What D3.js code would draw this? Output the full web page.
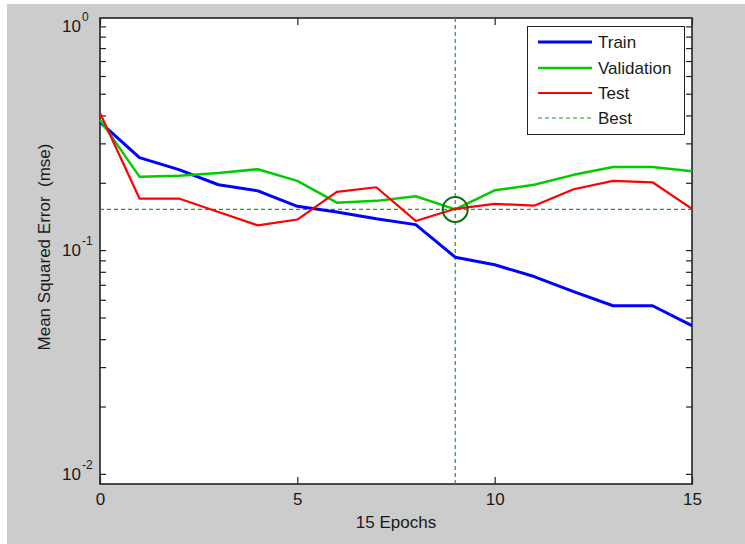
<!DOCTYPE html>
<html>
<head>
<meta charset="utf-8">
<script src="https://cdn.jsdelivr.net/npm/d3@7"></script>
<style>
  body { margin: 0; background: #fff; }
  text { font-family: "Liberation Sans", Arial, sans-serif; fill: #1a1a1a; }
</style>
</head>
<body>
<div id="chart"></div>
<script>
// DATA
const epochs = [0, 1, 2, 3, 4, 5, 6, 7, 8, 9, 10, 11, 12, 13, 14, 15];
const trainPerf = [0.373, 0.259, 0.229, 0.196, 0.184, 0.157, 0.148, 0.138, 0.130, 0.093, 0.086, 0.0762, 0.0653, 0.0564, 0.0564, 0.046];
const valPerf = [0.382, 0.213, 0.215, 0.221, 0.230, 0.204, 0.163, 0.166, 0.174, 0.152, 0.185, 0.196, 0.217, 0.235, 0.235, 0.225];
const testPerf = [0.410, 0.170, 0.170, 0.148, 0.129, 0.137, 0.182, 0.191, 0.135, 0.153, 0.161, 0.158, 0.187, 0.204, 0.201, 0.153];
const bestEpoch = 9;
const bestPerf = 0.152;
const xTicks = [0, 5, 10, 15];
const yDecades = [-2, -1, 0];
const legendNames = ["Train", "Validation", "Test", "Best"];

const width = 745,
  height = 544,
  plot = { left: 100, right: 692, top: 18, bottom: 484 };

const svg = d3.select("#chart")
  .append("svg")
  .attr("width", width)
  .attr("height", height);

// figure background
svg.append("rect")
  .attr("x", 7).attr("y", 4)
  .attr("width", width - 7).attr("height", height - 4)
  .attr("fill", "#cccccc");

svg.append("rect")
  .attr("x", plot.left).attr("y", plot.top)
  .attr("width", plot.right - plot.left).attr("height", plot.bottom - plot.top)
  .attr("fill", "#fff");

// SCALES
const x = d3.scaleLinear()
  .domain([0, 15])
  .range([plot.left, plot.right]);

const y = d3.scaleLog()
  .domain([0.00901, 1.09])
  .range([plot.bottom, plot.top]);

// log ticks 1..9 per decade inside the domain
const yTickVals = [];
yDecades.forEach(d => {
  for (let k = 1; k < 10; k++) {
    const v = k * Math.pow(10, d);
    if (v >= y.domain()[0] && v <= y.domain()[1]) yTickVals.push(v);
  }
});

// AXES (ticks point inward)
const axisStyle = g => {
  g.select(".domain").remove();
  g.selectAll(".tick line").attr("stroke", "#222").attr("stroke-width", 1.2);
};

svg.append("g")
  .attr("transform", `translate(${plot.left},0)`)
  .call(d3.axisLeft(y).tickValues(yTickVals).tickSize(-6).tickFormat(""))
  .call(axisStyle);

svg.append("g")
  .attr("transform", `translate(${plot.right},0)`)
  .call(d3.axisRight(y).tickValues(yTickVals).tickSize(-6).tickFormat(""))
  .call(axisStyle);

svg.append("g")
  .attr("transform", `translate(0,${plot.bottom})`)
  .call(d3.axisBottom(x).tickValues(xTicks).tickSize(-7).tickPadding(9).tickFormat(d3.format("d")))
  .call(axisStyle)
  .call(g => g.selectAll("text").attr("font-size", 17).attr("fill", "#1a1a1a")
    .style("font-family", "'Liberation Sans', Arial, sans-serif"));

svg.append("g")
  .attr("transform", `translate(0,${plot.top})`)
  .call(d3.axisTop(x).tickValues(xTicks).tickSize(-7).tickFormat(""))
  .call(axisStyle);

// 10^n labels
svg.append("g").selectAll("text")
  .data(yDecades)
  .join("text")
  .attr("x", 81)
  .attr("y", d => y(Math.pow(10, d)) + 6)
  .attr("text-anchor", "end")
  .attr("font-size", 17)
  .text("10");

svg.append("g").selectAll("text")
  .data(yDecades)
  .join("text")
  .attr("x", 82)
  .attr("y", d => y(Math.pow(10, d)) - 5)
  .attr("font-size", 12)
  .text(d => d);

// box
svg.append("rect")
  .attr("x", plot.left).attr("y", plot.top)
  .attr("width", plot.right - plot.left).attr("height", plot.bottom - plot.top)
  .attr("fill", "none")
  .attr("stroke", "#222")
  .attr("stroke-width", 1.6);

// LABELS
svg.append("text")
  .attr("x", (plot.left + plot.right) / 2)
  .attr("y", 528)
  .attr("text-anchor", "middle")
  .attr("font-size", 17)
  .text("15 Epochs");

svg.append("text")
  .attr("transform", `translate(50,${(plot.top + plot.bottom) / 2 - 4}) rotate(-90)`)
  .attr("text-anchor", "middle")
  .attr("font-size", 17)
  .style("white-space", "pre")
  .text("Mean Squared Error  (mse)");

// BEST LINES
const bestColor = "#2f922f";
svg.append("line")
  .attr("x1", x(0)).attr("x2", x(15))
  .attr("y1", y(bestPerf)).attr("y2", y(bestPerf))
  .attr("stroke", bestColor).attr("stroke-width", 1.2)
  .attr("stroke-dasharray", "4,3");

svg.append("line")
  .attr("x1", x(bestEpoch)).attr("x2", x(bestEpoch))
  .attr("y1", y.range()[0]).attr("y2", y.range()[1])
  .attr("stroke", bestColor).attr("stroke-width", 1.2)
  .attr("stroke-dasharray", "4,3");

// PERFORMANCE LINES
const line = d3.line()
  .x((d, i) => x(epochs[i]))
  .y(d => y(d));

const series = [
  { name: "Train", values: trainPerf, color: "#0000ff", w: 3 },
  { name: "Validation", values: valPerf, color: "#00cc00", w: 2.5 },
  { name: "Test", values: testPerf, color: "#ff0000", w: 2.2 }
];

svg.append("g").selectAll("path")
  .data(series)
  .join("path")
  .attr("d", d => line(d.values))
  .attr("fill", "none")
  .attr("stroke", d => d.color)
  .attr("stroke-width", d => d.w)
  .attr("stroke-linejoin", "round");

// best point circle
svg.append("circle")
  .attr("cx", x(bestEpoch))
  .attr("cy", y(bestPerf))
  .attr("r", 12.5)
  .attr("fill", "none")
  .attr("stroke", "#0a6e0a")
  .attr("stroke-width", 2);

// LEGEND
const legend = svg.append("g");
legend.append("rect")
  .attr("x", 527.5).attr("y", 26.5)
  .attr("width", 157).attr("height", 108)
  .attr("fill", "#fff")
  .attr("stroke", "#222")
  .attr("stroke-width", 1);

const legendStyles = [
  { color: "#0000ff", w: 3, dash: null },
  { color: "#00cc00", w: 2.5, dash: null },
  { color: "#ff0000", w: 2.2, dash: null },
  { color: bestColor, w: 1.2, dash: "4,3" }
];
const rowY = [42, 68, 93, 118];

legend.selectAll("line")
  .data(legendNames)
  .join("line")
  .attr("x1", 538).attr("x2", 592)
  .attr("y1", (d, i) => rowY[i]).attr("y2", (d, i) => rowY[i])
  .attr("stroke", (d, i) => legendStyles[i].color)
  .attr("stroke-width", (d, i) => legendStyles[i].w)
  .attr("stroke-dasharray", (d, i) => legendStyles[i].dash);

legend.selectAll("text")
  .data(legendNames)
  .join("text")
  .attr("x", 598)
  .attr("y", (d, i) => rowY[i] + 6)
  .attr("font-size", 17)
  .text(d => d);
</script>
</body>
</html>
